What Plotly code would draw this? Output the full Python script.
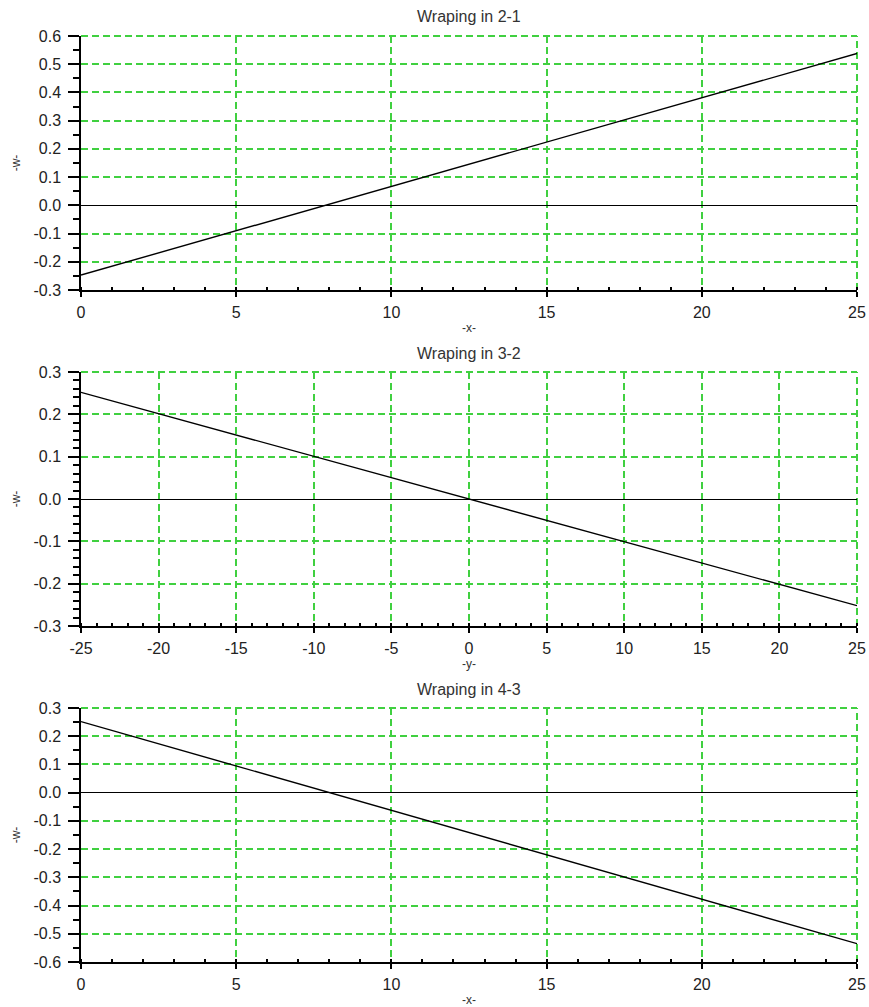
import plotly.graph_objects as go

# ---- data ----
titles = ["Wraping in 2-1", "Wraping in 3-2", "Wraping in 4-3"]
x_titles = ["-x-", "-y-", "-x-"]
y_title = "-w-"

x1 = [0, 25]
w1 = [-0.247, 0.538]

x2 = [-25, 25]
w2 = [0.252, -0.252]

x3 = [0, 25]
w3 = [0.252, -0.535]

x_ticks = [[0, 5, 10, 15, 20, 25],
           [-25, -20, -15, -10, -5, 0, 5, 10, 15, 20, 25],
           [0, 5, 10, 15, 20, 25]]
x_ticktext = [["0", "5", "10", "15", "20", "25"],
              ["-25", "-20", "-15", "-10", "-5", "0", "5", "10", "15", "20", "25"],
              ["0", "5", "10", "15", "20", "25"]]
y_ticks = [[-0.3, -0.2, -0.1, 0.0, 0.1, 0.2, 0.3, 0.4, 0.5, 0.6],
           [-0.3, -0.2, -0.1, 0.0, 0.1, 0.2, 0.3],
           [-0.6, -0.5, -0.4, -0.3, -0.2, -0.1, 0.0, 0.1, 0.2, 0.3]]
y_ticktext = [["-0.3", "-0.2", "-0.1", "0.0", "0.1", "0.2", "0.3", "0.4", "0.5", "0.6"],
              ["-0.3", "-0.2", "-0.1", "0.0", "0.1", "0.2", "0.3"],
              ["-0.6", "-0.5", "-0.4", "-0.3", "-0.2", "-0.1", "0.0", "0.1", "0.2", "0.3"]]

x_ranges = [[0, 25], [-25, 25], [0, 25]]
y_ranges = [[-0.3, 0.6], [-0.3, 0.3], [-0.6, 0.3]]
y_minor = [0.05, 0.02, 0.05]

W, H = 869, 1007
tops = [36, 372, 708]
bottoms = [290, 626, 962]
LEFT = 81
RIGHT = 857

GREEN = "#40d040"
DASH = "7px,4px"
FONT = "Liberation Sans, Arial, sans-serif"

fig = go.Figure()
series = [(x1, w1), (x2, w2), (x3, w3)]
for i, (xs, ws) in enumerate(series):
    n = "" if i == 0 else str(i + 1)
    fig.add_trace(go.Scatter(x=xs, y=ws, mode="lines",
                             line=dict(color="black", width=1.4),
                             xaxis="x" + n, yaxis="y" + n, showlegend=False,
                             hoverinfo="skip"))

layout = dict(
    template="none",
    width=W, height=H,
    margin=dict(l=LEFT, r=W - RIGHT, t=0, b=0, pad=0, autoexpand=False),
    paper_bgcolor="white", plot_bgcolor="white",
    font=dict(family=FONT, size=16, color="#222"),
    showlegend=False,
)

annotations = []
shapes = []
for i in range(3):
    n = "" if i == 0 else str(i + 1)
    dom = [1 - bottoms[i] / H, 1 - tops[i] / H]
    xa = dict(
        domain=[0, 1], range=x_ranges[i], anchor="y" + n,
        tickmode="array", tickvals=x_ticks[i], ticktext=x_ticktext[i],
        showgrid=True, gridcolor=GREEN, griddash=DASH, gridwidth=2,
        zeroline=False,
        showline=True, linecolor="black", linewidth=1.5,
        ticks="outside", ticklen=5, tickcolor="black", tickwidth=1.5,
        ticklabelstandoff=2, ticklabeloverflow="allow",
        minor=dict(dtick=1, tick0=0, ticks="inside", ticklen=3, tickcolor="black",
                   tickwidth=1.5, showgrid=False),
        tickfont=dict(size=16, color="#222", family=FONT),
        title=dict(text=x_titles[i], font=dict(size=12, color="#333", family=FONT),
                   standoff=4),
        fixedrange=True, automargin=False,
    )
    ya = dict(
        domain=dom, range=y_ranges[i], anchor="x" + n,
        tickmode="array", tickvals=y_ticks[i], ticktext=y_ticktext[i],
        showgrid=True, gridcolor=GREEN, griddash=DASH, gridwidth=2,
        zeroline=True, zerolinecolor="black", zerolinewidth=1.3,
        showline=True, linecolor="black", linewidth=1.5,
        ticks="outside", ticklen=11, tickcolor="black", tickwidth=1.5,
        ticklabelstandoff=4, ticklabeloverflow="allow",
        minor=dict(dtick=y_minor[i], tick0=0, ticks="outside", ticklen=6,
                   tickcolor="black", tickwidth=1.5, showgrid=False),
        tickfont=dict(size=16, color="#222", family=FONT),
        title=dict(text=y_title, font=dict(size=12, color="#333", family=FONT),
                   standoff=10),
        fixedrange=True, automargin=False,
    )
    layout["xaxis" + n] = xa
    layout["yaxis" + n] = ya
    annotations.append(dict(
        text=titles[i], xref="paper", yref="paper",
        x=0.5, y=1 - (tops[i] - 19) / H, xanchor="center", yanchor="middle",
        showarrow=False, font=dict(size=16, color="#333", family=FONT),
    ))
    # dashed green grid lines on the top and right edges of each box
    shapes.append(dict(type="line", xref="x" + n + " domain", yref="y" + n + " domain",
                       x0=0, x1=1, y0=1, y1=1, layer="below",
                       line=dict(color=GREEN, width=2, dash=DASH)))
    shapes.append(dict(type="line", xref="x" + n + " domain", yref="y" + n + " domain",
                       x0=1, x1=1, y0=0, y1=1, layer="below",
                       line=dict(color=GREEN, width=2, dash=DASH)))

layout["annotations"] = annotations
layout["shapes"] = shapes
fig.update_layout(**layout)
fig.write_html(
    "out.html",
    config={"displayModeBar": False},
    post_script="document.body.style.margin='0px';document.body.style.overflow='hidden';",
)
